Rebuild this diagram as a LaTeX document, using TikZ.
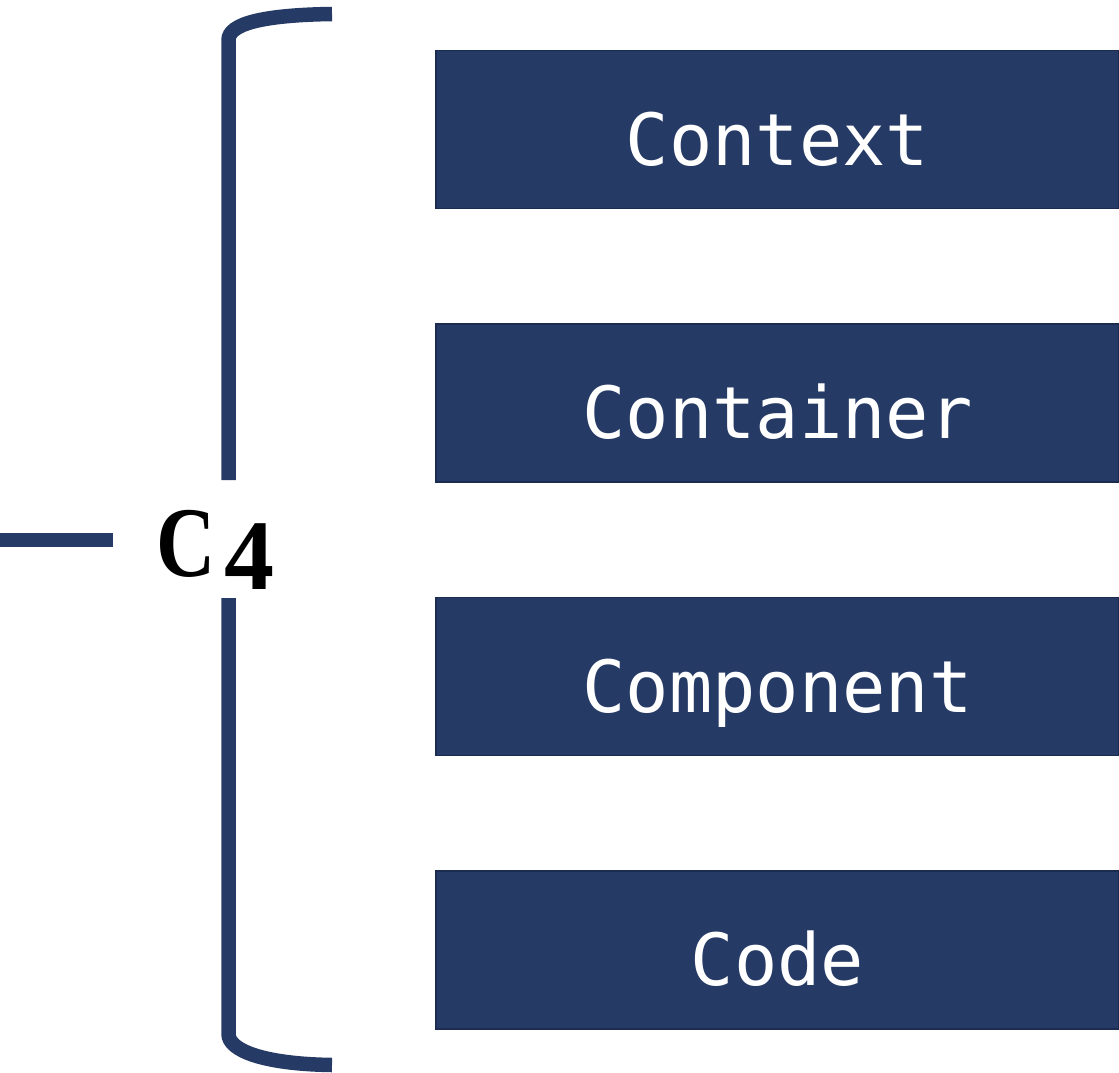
\documentclass[tikz,border=0pt]{standalone}
\usepackage{fontspec}
\newfontfamily\boxfont{DejaVu Sans Mono}
\newfontfamily\cfont{Liberation Serif}
\definecolor{navy}{HTML}{263A66}
\definecolor{navyedge}{HTML}{1C2C50}
\tikzset{
  levelbox/.style={draw=navyedge, line width=1.5pt, fill=navy, minimum width=683pt, minimum height=158pt,
    inner sep=0pt, text height=71pt, text depth=0pt, text=white, font=\boxfont\fontsize{72}{72}\selectfont},
  brack/.style={draw=navy, line width=14.5pt, line cap=butt}
}
\begin{document}
\begin{tikzpicture}[x=1pt,y=-1pt]
\useasboundingbox (0,0) rectangle (1119,1073);
\node[levelbox] (context) at (777.5,129.5) {Context};
\node[levelbox] (container) at (777.5,403) {Container};
\node[levelbox] (component) at (777.5,676.5) {Component};
\node[levelbox] (code) at (777.5,950) {Code};
\node[inner sep=0pt, font=\cfont\bfseries\fontsize{100}{100}\selectfont, anchor=base west] (c4) at (156,576) {\scalebox{0.82}[1]{C}\kern9pt\raisebox{-13pt}{4}};
\coordinate (lineL) at (0,540);
\coordinate (lineR) at (113,540);
\draw[brack] (lineL) -- (lineR);
\draw[brack] (228.5,480) -- (228.5,40) .. controls (228.5,24) and (262,15) .. (332,14);
\draw[brack] (228.5,598) -- (228.5,1034) .. controls (228.5,1050) and (262,1064) .. (332,1065);
\end{tikzpicture}
\end{document}
